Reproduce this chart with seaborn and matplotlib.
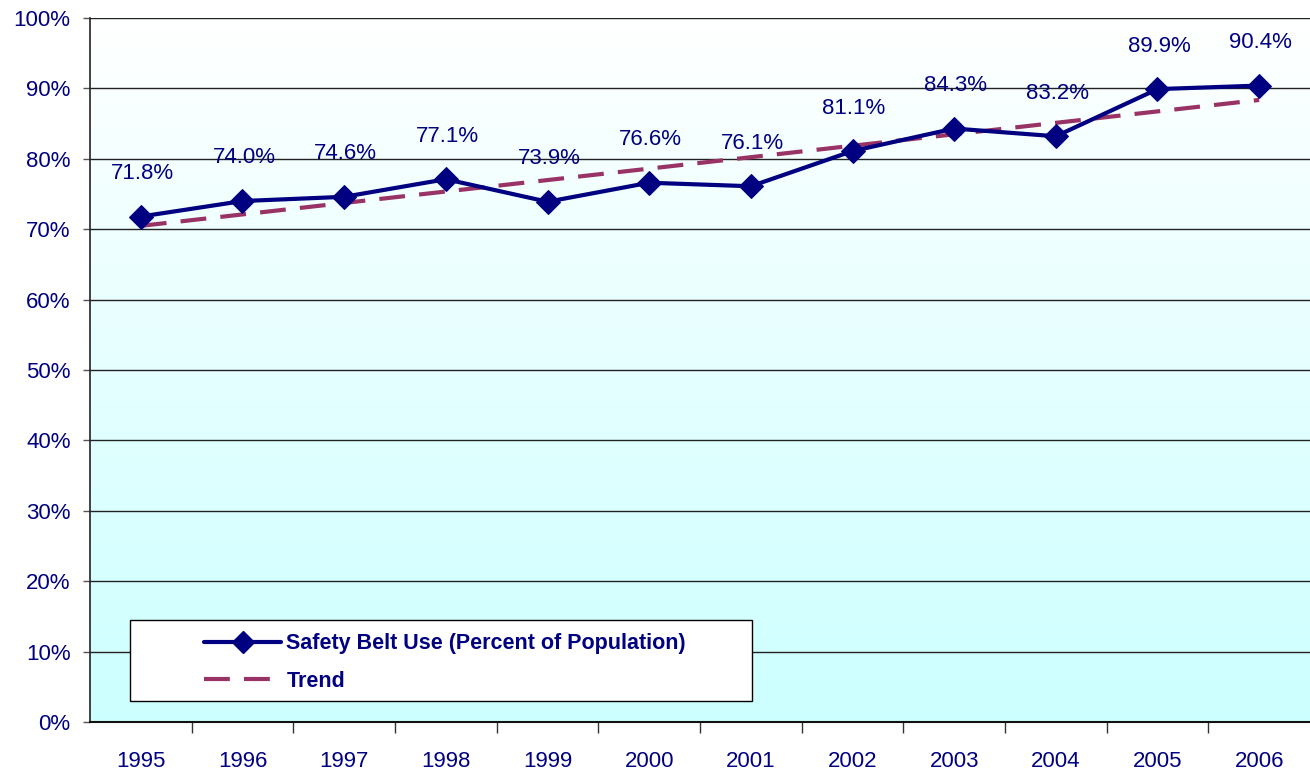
import numpy as np
import pandas as pd
import matplotlib
matplotlib.use('Agg')
import matplotlib.pyplot as plt
import seaborn as sns
from matplotlib.colors import LinearSegmentedColormap
from matplotlib.lines import Line2D
from matplotlib.patches import Rectangle

# ==================== data ====================
years = [1995, 1996, 1997, 1998, 1999, 2000, 2001, 2002, 2003, 2004, 2005, 2006]
belt_use = [71.8, 74.0, 74.6, 77.1, 73.9, 76.6, 76.1, 81.1, 84.3, 83.2, 89.9, 90.4]
y_ticks = [0, 10, 20, 30, 40, 50, 60, 70, 80, 90, 100]

df = pd.DataFrame({'year': years, 'use': belt_use})
df['pos'] = np.arange(len(df))

NAVY = '#000080'
TREND = '#993366'

sns.set_style('white')
plt.rcParams['font.family'] = ['Liberation Sans', 'DejaVu Sans']

fig = plt.figure(figsize=(13.1, 7.78), dpi=100)
ax = fig.add_axes([90 / 1310, 1 - 722 / 778, 1220 / 1310, 704 / 778])

# background gradient white -> light cyan
cmap = LinearSegmentedColormap.from_list('bg', ['#FFFFFF', '#CCFFFF'])
ax.imshow(np.linspace(0, 1, 256).reshape(-1, 1), cmap=cmap, aspect='auto',
          extent=[-0.5, len(years) - 0.5, 0, 100], zorder=0)

# grid lines
for t in y_ticks[1:]:
    ax.axhline(t, color='#222222', lw=1.0, zorder=1)

# trend (linear fit)
sns.regplot(data=df, x='pos', y='use', scatter=False, ci=None, ax=ax,
            line_kws=dict(color=TREND, lw=3, dashes=(6.2, 3.4), zorder=2))

# main series
sns.lineplot(data=df, x='pos', y='use', ax=ax, color=NAVY, lw=3,
             marker='D', markersize=12.5, markeredgecolor=NAVY, zorder=3)

for p, v in zip(df['pos'], df['use']):
    ax.annotate(f'{v:.1f}%', (p, v), xytext=(1, 31), textcoords='offset points',
                ha='center', va='center', color=NAVY, fontsize=16)

ax.set_xlim(-0.5, len(years) - 0.5)
ax.set_ylim(0, 100)
ax.set_xlabel('')
ax.set_ylabel('')

ax.set_yticks(y_ticks)
ax.set_yticklabels([f'{t}%' for t in y_ticks], color=NAVY, fontsize=16)
ax.tick_params(axis='y', length=5, width=1, color='#555555', left=True, pad=9)

# x: labels at centres, tick marks between categories
ax.set_xticks(df['pos'])
ax.set_xticklabels([str(y) for y in years], color=NAVY, fontsize=16)
ax.set_xticks(np.arange(0.5, len(years) - 0.5, 1), minor=True)
ax.tick_params(axis='x', which='major', length=0, pad=21)
ax.tick_params(axis='x', which='minor', length=8, width=1, color='#333333', bottom=True)

for s in ['top', 'right']:
    ax.spines[s].set_visible(False)
ax.spines['left'].set_color('#222222')
ax.spines['left'].set_linewidth(1.2)
ax.spines['bottom'].set_color('#111111')
ax.spines['bottom'].set_linewidth(1.5)

# legend box
ax.add_patch(Rectangle((40 / 1220, 21 / 704), 622 / 1220, 81 / 704, transform=ax.transAxes,
                       facecolor='white', edgecolor='black', lw=1, zorder=4))
handles = [
    Line2D([], [], color=NAVY, lw=3, marker='D', markersize=11),
    Line2D([], [], color=TREND, lw=3, dashes=(6.2, 3.4)),
]
leg = ax.legend(handles, ['Safety Belt Use (Percent of Population)', 'Trend'],
                loc='lower left', bbox_to_anchor=(108 / 1220, 24 / 704), frameon=False,
                borderaxespad=0, handlelength=3.55, handletextpad=0.25,
                labelspacing=0.75, borderpad=0.3,
                prop=dict(weight='bold', size=15.5))
leg.set_zorder(5)
for txt in leg.get_texts():
    txt.set_color(NAVY)

plt.savefig('out.png', dpi=100)
